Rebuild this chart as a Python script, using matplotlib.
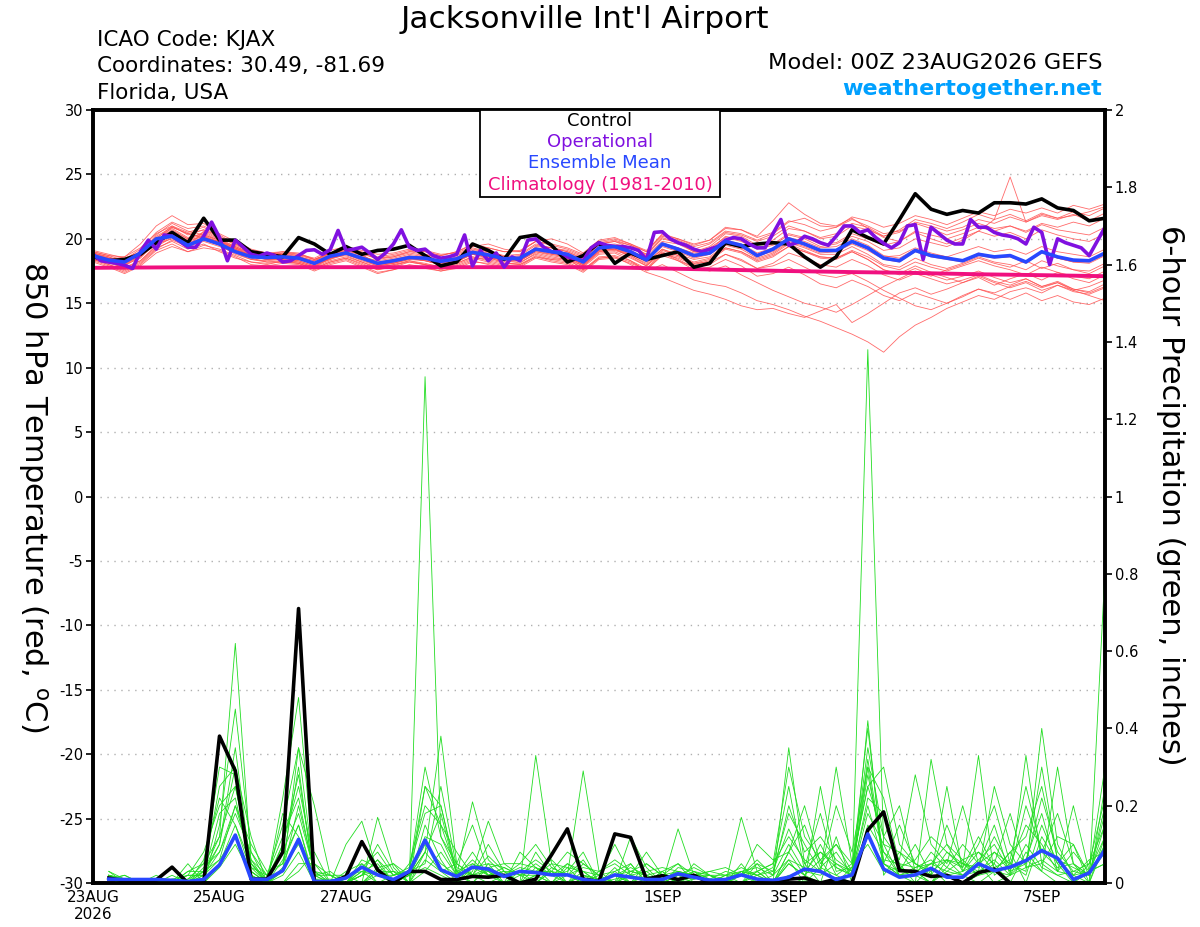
import pandas as pd
import matplotlib
matplotlib.use("Agg")
import matplotlib.pyplot as plt
from matplotlib.patches import Rectangle

plt.rcParams["font.family"] = ["DejaVu Sans"]
plt.rcParams["axes.unicode_minus"] = False

# time axes: 6-hourly GEFS, 3-hourly operational, daily climatology
times = pd.date_range("2026-08-23 00:00", periods=65, freq="6h")
op_times = pd.date_range("2026-08-23 00:00", periods=129, freq="3h")
clim_times = pd.date_range("2026-08-23", periods=17, freq="D")

tick_dates = pd.to_datetime(["2026-08-23", "2026-08-25", "2026-08-27", "2026-08-29",
                             "2026-09-01", "2026-09-03", "2026-09-05", "2026-09-07"])
tick_labels = ["23AUG\n2026", "25AUG", "27AUG", "29AUG", "1SEP", "3SEP", "5SEP", "7SEP"]

# 850 hPa temperature (C)
control_temp = [18.6, 18.3, 18.4, 18.8, 19.7, 20.5, 19.7, 21.6, 19.9, 19.9, 19.0, 18.8, 18.6, 20.1, 19.6, 18.8, 19.4,
                18.8, 19.1, 19.2, 19.5, 18.7, 17.9, 18.2, 19.6, 19.1, 18.4, 20.1, 20.3, 19.5, 18.2, 18.7, 19.7,
                18.1, 18.9, 18.4, 18.7, 19.0, 17.8, 18.1, 19.7, 19.4, 19.6, 19.7, 19.6, 18.6, 17.8, 18.6, 20.7,
                20.1, 19.6, 21.5, 23.5, 22.3, 21.9, 22.2, 22.0, 22.8, 22.8, 22.7, 23.1, 22.4, 22.2, 21.4, 21.6]

mean_temp = [18.7, 18.35, 18.2, 18.9, 20.0, 20.2, 19.5, 20.0, 19.6, 19.0, 18.6, 18.55, 18.6, 18.5, 18.1, 18.65, 18.9,
             18.5, 18.1, 18.3, 18.55, 18.5, 18.25, 18.45, 18.95, 18.75, 18.45, 18.5, 19.2, 19.0, 18.8, 18.2, 19.3,
             19.4, 19.0, 18.35, 19.6, 19.2, 18.7, 18.9, 19.8, 19.5, 18.7, 19.2, 20.0, 19.6, 19.1, 19.1, 19.8,
             19.3, 18.5, 18.3, 19.1, 18.7, 18.5, 18.3, 18.8, 18.6, 18.7, 18.2, 19.0, 18.6, 18.35, 18.3, 18.9]

oper_temp = [18.8, 18.3, 18.2, 18.1, 17.95, 17.7, 19.0, 19.9, 19.2, 20.3,
             20.2, 19.8, 19.35, 19.35, 20.2, 21.3, 20.1, 18.3, 19.9, 19.35,
             18.8, 18.65, 18.9, 18.7, 18.2, 18.3, 18.7, 19.1, 19.15, 18.8,
             19.15, 20.65, 19.1, 19.2, 19.35, 18.9, 18.4, 18.9, 19.6, 20.7,
             19.35, 19.1, 19.2, 18.7, 18.5, 18.6, 18.8, 20.3, 17.9, 19.1,
             18.3, 18.9, 17.8, 18.6, 18.3, 19.9, 20.0, 19.35, 19.0, 19.0,
             18.6, 18.45, 18.3, 19.3, 19.7, 19.5, 19.4, 19.4, 19.3, 19.1,
             18.4, 20.5, 20.55, 20.0, 19.7, 19.5, 19.2, 19.0, 19.2, 19.4,
             19.9, 20.1, 20.0, 19.6, 19.3, 19.3, 20.4, 21.5, 19.5, 19.7,
             20.2, 20.0, 19.7, 19.5, 20.2, 21.0, 21.0, 20.5, 20.7, 20.1,
             19.65, 19.3, 19.7, 21.0, 21.1, 18.4, 20.9, 20.4, 19.9, 19.6,
             19.6, 21.5, 20.9, 20.9, 20.5, 20.3, 20.2, 20.0, 19.6, 20.9,
             20.5, 18.0, 20.0, 19.7, 19.5, 19.3, 18.7, 19.8, 20.9]

clim_temp = [17.75, 17.78, 17.8, 17.8, 17.8, 17.8, 17.8, 17.8, 17.8,
             17.7, 17.6, 17.5, 17.42, 17.35, 17.25, 17.18, 17.1]

temp_members = [
    [18.9, 18.6, 18.0, 18.5, 19.8, 20.9, 20.4, 20.1, 19.8, 19.3, 18.9, 18.6, 18.9, 18.7, 18.0, 18.4, 19.1,
     18.8, 18.0, 18.1, 18.4, 18.8, 18.5, 18.2, 19.0, 19.2, 18.6, 18.3, 19.4, 19.3, 19.0, 18.4, 19.6,
     19.8, 19.5, 18.8, 20.1, 19.7, 19.0, 19.4, 20.4, 20.2, 19.5, 19.9, 20.8, 20.6, 20.1, 20.4, 21.2,
     20.9, 20.2, 20.5, 21.3, 21.0, 20.6, 20.9, 21.5, 21.2, 21.7, 21.3, 21.9, 21.6, 21.8, 22.1, 22.5],
    [18.4, 18.0, 17.6, 18.2, 19.3, 19.8, 19.2, 19.6, 19.0, 18.5, 18.2, 18.0, 18.3, 18.1, 17.7, 18.2, 18.5,
     18.0, 17.6, 17.9, 18.3, 18.0, 17.9, 18.1, 18.6, 18.3, 18.0, 18.2, 18.8, 18.5, 18.3, 17.8, 18.8,
     18.9, 18.3, 17.5, 18.0, 17.4, 16.8, 16.5, 16.3, 15.8, 15.2, 14.9, 14.5, 14.0, 13.6, 13.1, 12.6,
     12.0, 11.2, 12.4, 13.3, 13.9, 14.6, 15.1, 15.6, 15.3, 15.9, 16.2, 15.8, 16.4, 16.0, 16.3, 16.8],
    [19.0, 18.7, 18.3, 18.9, 20.3, 21.2, 20.6, 20.3, 19.9, 19.3, 18.7, 18.4, 18.4, 18.2, 17.8, 18.5, 18.7,
     18.2, 17.8, 18.0, 18.2, 18.0, 17.6, 17.9, 18.4, 18.6, 18.1, 18.0, 18.6, 18.4, 18.5, 17.6, 18.5,
     18.6, 18.0, 17.4, 17.0, 16.5, 16.0, 15.7, 15.3, 14.8, 14.5, 14.6, 14.2, 13.9, 14.4, 14.9, 13.5,
     14.2, 15.0, 15.8, 16.2, 15.7, 16.1, 16.6, 17.0, 16.4, 16.9, 17.3, 16.8, 17.4, 16.9, 16.6, 17.2],
    [18.5, 18.4, 18.1, 18.7, 19.6, 20.0, 19.4, 20.6, 19.9, 19.4, 18.9, 18.7, 18.8, 18.6, 18.3, 18.9, 19.2,
     18.9, 18.4, 18.6, 18.9, 18.7, 18.4, 18.7, 19.2, 19.0, 18.6, 18.7, 19.5, 19.3, 19.0, 18.5, 19.5,
     19.6, 19.3, 18.7, 19.8, 19.6, 19.0, 19.3, 20.1, 19.8, 19.2, 19.5, 20.3, 20.0, 19.4, 19.6, 20.2,
     19.8, 19.1, 19.3, 20.0, 19.7, 19.4, 19.9, 20.6, 21.5, 24.8, 21.3, 21.8, 21.5, 21.9, 21.4, 22.0],
    [18.8, 18.5, 18.4, 19.2, 20.5, 21.3, 20.8, 21.0, 20.4, 19.8, 19.2, 18.9, 19.0, 18.9, 18.4, 18.9, 19.3,
     19.0, 18.5, 18.6, 19.0, 19.1, 18.8, 18.9, 19.4, 19.6, 19.2, 19.0, 19.8, 20.0, 19.6, 18.9, 19.9,
     20.1, 19.6, 19.0, 20.4, 20.0, 19.6, 19.9, 20.9, 20.7, 20.1, 20.5, 21.4, 21.1, 20.6, 20.9, 21.7,
     21.4, 20.9, 21.2, 21.8, 21.5, 21.1, 21.6, 22.1, 21.8, 22.3, 22.0, 22.4, 22.0, 22.6, 22.3, 22.7],
    [18.3, 17.9, 17.4, 18.0, 19.1, 19.6, 19.0, 19.3, 19.1, 18.6, 18.0, 17.9, 18.1, 18.0, 17.5, 18.0, 18.3,
     17.8, 17.3, 17.6, 17.9, 17.7, 17.5, 17.8, 18.3, 18.0, 17.7, 17.8, 18.5, 18.2, 18.0, 17.4, 18.4,
     18.5, 18.1, 17.6, 18.7, 18.3, 17.8, 18.0, 18.8, 18.4, 17.7, 18.1, 18.9, 18.5, 18.0, 17.8, 18.4,
     17.9, 17.2, 16.8, 17.3, 16.9, 16.5, 16.8, 17.2, 16.7, 16.4, 16.9, 16.3, 16.7, 16.1, 15.8, 16.3],
    [19.1, 18.8, 18.5, 19.0, 20.1, 20.8, 20.1, 20.4, 19.7, 19.1, 18.8, 18.7, 18.8, 18.4, 18.2, 18.8, 19.0,
     18.6, 18.3, 18.5, 18.8, 18.6, 18.3, 18.6, 19.1, 18.9, 18.6, 18.6, 19.3, 19.1, 18.9, 18.3, 19.3,
     19.5, 19.1, 18.5, 19.6, 19.3, 18.8, 19.0, 19.9, 19.6, 18.9, 19.3, 20.1, 19.8, 19.3, 19.4, 20.0,
     19.5, 18.7, 18.5, 19.2, 18.8, 18.6, 18.3, 18.9, 18.6, 18.7, 18.2, 19.0, 18.5, 18.2, 18.1, 18.7],
    [18.6, 18.2, 17.9, 18.6, 19.7, 20.4, 19.8, 20.2, 19.5, 18.8, 18.4, 18.3, 18.4, 18.3, 17.9, 18.4, 18.8,
     18.4, 17.9, 18.1, 18.4, 18.3, 18.0, 18.3, 18.8, 18.6, 18.3, 18.3, 19.0, 18.8, 18.6, 18.0, 19.0,
     19.2, 18.6, 17.9, 18.9, 18.3, 17.6, 17.8, 18.4, 17.9, 17.1, 17.3, 17.8, 17.2, 16.5, 16.2, 16.8,
     16.3, 15.6, 15.2, 15.8, 15.4, 15.0, 15.5, 16.1, 15.7, 15.3, 15.8, 15.2, 15.6, 15.1, 14.9, 15.4],
    [18.7, 18.5, 18.3, 18.8, 19.9, 20.6, 20.0, 20.5, 19.8, 19.2, 18.7, 18.5, 18.5, 18.6, 18.1, 18.6, 18.8,
     18.5, 18.1, 18.2, 18.6, 18.4, 18.1, 18.4, 18.9, 18.7, 18.4, 18.4, 19.2, 18.9, 18.7, 18.1, 19.2,
     19.3, 18.9, 18.3, 19.5, 19.1, 18.6, 18.8, 19.7, 19.4, 18.6, 19.1, 19.9, 19.5, 19.0, 19.0, 19.6,
     19.1, 18.4, 18.2, 19.0, 18.6, 18.4, 18.2, 18.7, 18.5, 18.6, 18.1, 18.9, 18.5, 18.2, 18.2, 18.8],
    [18.9, 18.6, 18.2, 18.8, 20.0, 21.0, 20.5, 20.9, 20.1, 19.6, 19.0, 18.8, 19.0, 18.8, 18.5, 19.1, 19.4,
     19.1, 18.8, 18.9, 19.2, 19.0, 18.7, 19.0, 19.6, 19.3, 19.0, 19.1, 19.8, 19.6, 19.3, 18.8, 19.8,
     20.0, 19.6, 19.1, 20.3, 20.0, 19.5, 19.9, 20.8, 20.7, 20.2, 21.4, 22.8, 21.9, 21.2, 21.0, 21.6,
     20.8, 20.1, 19.8, 20.5, 20.0, 19.6, 20.1, 20.6, 20.2, 20.5, 20.0, 20.7, 20.3, 20.0, 19.8, 20.4],
    [18.2, 17.8, 17.3, 17.9, 18.9, 19.4, 19.0, 19.5, 19.2, 18.7, 18.2, 18.1, 18.2, 18.1, 17.6, 18.1, 18.4,
     17.9, 17.4, 17.6, 18.0, 17.8, 17.5, 17.7, 18.2, 18.1, 17.8, 17.9, 18.6, 18.3, 18.1, 17.5, 18.5,
     18.6, 18.2, 17.6, 18.8, 18.5, 18.0, 18.3, 19.2, 18.9, 18.2, 18.6, 19.4, 19.0, 18.6, 18.5, 19.1,
     18.6, 17.9, 17.6, 18.2, 17.8, 17.5, 17.9, 18.3, 17.9, 17.6, 17.2, 17.8, 17.4, 17.1, 16.9, 17.5],
    [18.6, 18.4, 18.6, 19.6, 21.0, 21.8, 21.1, 21.2, 20.3, 19.6, 19.1, 18.9, 18.8, 18.7, 18.4, 18.9, 19.1,
     18.7, 18.2, 18.4, 18.7, 18.5, 18.3, 18.5, 19.0, 18.8, 18.5, 18.5, 19.3, 19.0, 18.8, 18.2, 19.2,
     19.4, 19.0, 18.5, 19.7, 19.3, 18.9, 19.1, 20.2, 19.9, 19.3, 19.6, 20.4, 20.1, 19.6, 19.7, 20.4,
     20.0, 19.5, 19.8, 20.6, 20.3, 20.0, 20.4, 20.9, 20.6, 21.0, 20.6, 21.2, 20.9, 21.3, 21.0, 21.6],
    [18.4, 18.1, 17.8, 18.3, 19.4, 20.1, 19.6, 19.9, 19.5, 19.1, 18.5, 18.2, 18.3, 18.2, 17.8, 18.3, 18.6,
     18.2, 17.7, 18.0, 18.3, 18.1, 17.8, 18.1, 18.6, 18.4, 18.1, 18.1, 18.9, 18.6, 18.4, 17.9, 18.9,
     19.0, 18.5, 17.9, 19.1, 18.7, 18.2, 18.5, 19.3, 19.0, 18.3, 18.7, 19.4, 19.0, 18.5, 18.4, 19.0,
     18.4, 17.6, 17.3, 17.9, 17.4, 17.0, 16.6, 17.1, 16.6, 16.2, 16.6, 16.0, 16.4, 15.9, 15.7, 16.2],
    [18.8, 18.4, 18.0, 18.7, 19.8, 20.5, 19.9, 20.2, 19.7, 19.2, 18.7, 18.4, 18.5, 18.4, 18.0, 18.5, 18.9,
     18.5, 18.0, 18.2, 18.5, 18.3, 18.0, 18.3, 18.8, 18.6, 18.3, 18.3, 19.1, 18.9, 18.6, 18.0, 19.1,
     19.2, 18.7, 18.0, 19.0, 18.4, 17.8, 17.5, 17.9, 17.2, 16.6, 16.0, 15.5, 15.0, 14.7, 14.3, 14.9,
     15.6, 16.3, 16.9, 17.5, 17.1, 17.6, 18.0, 18.5, 18.1, 17.8, 18.3, 17.7, 18.1, 17.6, 17.3, 17.9],
    [19.0, 18.7, 18.6, 19.3, 20.4, 21.0, 20.3, 20.7, 20.0, 19.4, 18.9, 18.7, 18.7, 18.6, 18.3, 18.8, 19.1,
     18.8, 18.5, 18.7, 19.0, 18.8, 18.5, 18.8, 19.3, 19.0, 18.7, 18.8, 19.6, 19.3, 19.1, 18.6, 19.6,
     19.8, 19.3, 18.8, 20.0, 19.7, 19.2, 19.6, 20.5, 20.3, 19.8, 20.2, 21.0, 20.6, 20.0, 20.2, 21.0,
     20.7, 20.2, 20.7, 21.5, 21.2, 20.8, 21.3, 21.9, 21.5, 21.9, 21.4, 22.0, 21.6, 22.1, 21.8, 22.4],
    [18.5, 18.2, 17.7, 18.3, 19.5, 20.2, 19.7, 20.1, 19.7, 19.2, 18.6, 18.4, 18.5, 18.3, 17.9, 18.5, 18.8,
     18.3, 17.9, 18.1, 18.5, 18.3, 18.0, 18.2, 18.8, 18.5, 18.2, 18.3, 19.0, 18.7, 18.5, 17.9, 19.0,
     19.1, 18.7, 18.1, 19.2, 18.8, 18.4, 18.6, 19.5, 19.2, 18.5, 18.9, 19.7, 19.3, 18.8, 18.8, 19.4,
     18.8, 18.0, 17.8, 18.5, 18.0, 17.7, 18.1, 18.6, 18.2, 18.0, 17.6, 18.3, 17.9, 17.6, 17.5, 18.1],
    [18.9, 18.5, 18.2, 18.8, 19.9, 20.7, 20.0, 20.3, 19.6, 19.0, 18.6, 18.4, 18.6, 18.5, 18.1, 18.6, 18.9,
     18.5, 18.1, 18.3, 18.6, 18.5, 18.2, 18.4, 18.9, 18.7, 18.4, 18.5, 19.2, 19.0, 18.7, 18.2, 19.2,
     19.3, 18.8, 18.2, 19.2, 18.7, 18.1, 18.2, 18.8, 18.3, 17.7, 17.9, 18.4, 17.8, 17.2, 17.0, 17.3,
     16.7, 16.0, 15.4, 14.8, 14.5, 15.0, 15.6, 16.1, 15.8, 16.3, 16.7, 16.2, 16.6, 16.1, 15.9, 16.5],
    [18.6, 18.3, 18.2, 18.9, 20.2, 20.9, 20.4, 20.7, 20.2, 19.5, 19.0, 18.8, 18.9, 18.8, 18.4, 18.9, 19.2,
     18.9, 18.6, 18.8, 19.1, 19.0, 18.7, 19.0, 19.5, 19.3, 19.0, 19.0, 19.8, 19.5, 19.2, 18.7, 19.7,
     19.9, 19.5, 19.0, 20.2, 19.9, 19.4, 19.7, 20.6, 20.4, 19.9, 20.4, 21.3, 21.6, 21.0, 20.9, 21.5,
     21.0, 20.4, 20.6, 21.2, 20.8, 20.3, 20.7, 21.2, 20.8, 21.0, 20.5, 21.1, 20.7, 20.5, 20.3, 20.9],
    [18.4, 18.0, 17.5, 18.1, 19.2, 19.9, 19.4, 19.8, 19.4, 18.9, 18.4, 18.2, 18.2, 18.1, 17.7, 18.2, 18.5,
     18.1, 17.6, 17.8, 18.2, 18.0, 17.7, 18.0, 18.5, 18.2, 17.9, 18.0, 18.7, 18.4, 18.2, 17.6, 18.6,
     18.7, 18.3, 17.7, 18.9, 18.6, 18.1, 18.4, 19.3, 19.0, 18.4, 18.8, 19.6, 19.1, 18.6, 18.5, 19.0,
     18.4, 17.6, 17.2, 17.7, 17.2, 16.8, 17.1, 17.5, 17.0, 16.6, 16.9, 16.3, 16.6, 16.0, 15.6, 15.2],
    [18.7, 18.3, 18.1, 18.6, 19.6, 20.3, 19.6, 20.0, 19.8, 19.3, 18.8, 18.6, 18.6, 18.5, 18.0, 18.5, 18.8,
     18.4, 18.0, 18.2, 18.5, 18.4, 18.1, 18.3, 18.8, 18.6, 18.3, 18.4, 19.1, 18.8, 18.6, 18.0, 19.1,
     19.2, 18.8, 18.3, 19.4, 19.0, 18.5, 18.8, 19.6, 19.3, 18.7, 19.0, 19.8, 19.4, 18.9, 19.0, 19.7,
     19.2, 18.6, 18.7, 19.3, 18.9, 18.6, 19.0, 19.4, 19.0, 19.2, 18.8, 19.4, 19.0, 18.8, 18.6, 19.2],
]

# 6-hour precipitation (inches), valid 06Z 23AUG onwards
control_precip = [0.013, 0.005, 0, 0.008, 0.041, 0, 0, 0.38,
                  0.29, 0.01, 0.01, 0.08, 0.71, 0, 0, 0.017,
                  0.107, 0.034, 0, 0.03, 0.03, 0.009, 0.009, 0.017,
                  0.015, 0.02, 0, 0.01, 0.073, 0.14, 0.01, 0.004,
                  0.127, 0.118, 0.01, 0.019, 0.009, 0.02, 0, 0,
                  0, 0, 0, 0.01, 0.013, 0, 0.01, 0,
                  0.137, 0.184, 0.032, 0.03, 0.017, 0.02, 0, 0.027,
                  0.036, 0, 0, 0, 0, 0, 0, 0]

mean_precip = [0.01, 0.009, 0.009, 0.009, 0.007, 0.004, 0.009, 0.047,
               0.124, 0.01, 0.009, 0.032, 0.113, 0.004, 0.004, 0.013,
               0.041, 0.021, 0.009, 0.03, 0.111, 0.034, 0.017, 0.041,
               0.036, 0.017, 0.03, 0.027, 0.021, 0.021, 0.009, 0.004,
               0.021, 0.015, 0.009, 0.009, 0.024, 0.015, 0.007, 0.009,
               0.021, 0.01, 0.007, 0.015, 0.036, 0.03, 0.009, 0.021,
               0.127, 0.036, 0.015, 0.021, 0.038, 0.015, 0.015, 0.05,
               0.032, 0.041, 0.058, 0.084, 0.064, 0.009, 0.026, 0.086]

precip_members = [
    [0.02, 0.01, 0, 0, 0, 0.03, 0.05, 0.12, 0.62, 0.05, 0, 0.02, 0.08, 0, 0, 0.03,
     0.05, 0, 0, 0.02, 0.04, 0.02, 0, 0.05, 0.03, 0, 0, 0.02, 0, 0.04, 0, 0,
     0.02, 0, 0, 0.03, 0, 0, 0, 0, 0.02, 0, 0, 0.05, 0.02, 0, 0, 0.04,
     0.12, 0.05, 0.02, 0, 0.04, 0, 0, 0.02, 0.05, 0, 0.08, 0.03, 0, 0, 0.05, 0.15],
    [0.01, 0, 0, 0.02, 0, 0, 0.03, 0.25, 0.30, 0.02, 0, 0.22, 0.48, 0.03, 0, 0,
     0.02, 0.06, 0, 0, 1.31, 0.12, 0.03, 0, 0.04, 0.02, 0, 0, 0.03, 0, 0.02, 0,
     0, 0.05, 0, 0, 0.02, 0, 0, 0.02, 0, 0.03, 0, 0.08, 0.02, 0.06, 0, 0,
     1.38, 0.10, 0.02, 0.03, 0, 0.04, 0.02, 0, 0.03, 0.08, 0, 0.12, 0.05, 0, 0, 0.25],
    [0.03, 0.01, 0, 0, 0, 0.05, 0, 0.15, 0.45, 0.08, 0.02, 0.05, 0.30, 0, 0, 0,
     0, 0.17, 0.04, 0, 0.08, 0.38, 0.05, 0.02, 0.10, 0.03, 0, 0.04, 0, 0.02, 0.01, 0,
     0.03, 0, 0.02, 0, 0.14, 0.02, 0, 0, 0.03, 0, 0, 0.35, 0.05, 0, 0.12, 0,
     0.42, 0.02, 0.08, 0.03, 0, 0.06, 0.04, 0.33, 0.02, 0.05, 0.03, 0.40, 0.10, 0.02, 0, 0.81],
    [0.02, 0, 0, 0, 0.01, 0, 0.02, 0.10, 0.30, 0.12, 0, 0.03, 0.35, 0.20, 0.02, 0,
     0.04, 0.08, 0.02, 0.03, 0.25, 0.20, 0.02, 0.21, 0.06, 0.02, 0, 0.33, 0.05, 0, 0.03, 0.02,
     0, 0.12, 0.04, 0, 0, 0.05, 0.02, 0, 0.17, 0.03, 0, 0.06, 0, 0.25, 0.04, 0.02,
     0.30, 0.22, 0.05, 0, 0.32, 0.10, 0.03, 0.05, 0, 0.02, 0.06, 0.03, 0.30, 0.05, 0.02, 0.10],
    [0.01, 0.02, 0, 0, 0, 0.02, 0.08, 0.20, 0.25, 0.06, 0, 0.10, 0.25, 0.05, 0.02, 0,
     0, 0.03, 0.05, 0, 0.15, 0.06, 0, 0.03, 0.16, 0.05, 0.02, 0, 0.03, 0.08, 0.05, 0.02,
     0.10, 0.02, 0, 0.02, 0, 0.03, 0, 0.01, 0, 0.05, 0.03, 0.18, 0.10, 0.03, 0.30, 0.05,
     0.25, 0.30, 0.10, 0.05, 0.03, 0.15, 0.05, 0.02, 0.08, 0.05, 0.15, 0.10, 0.03, 0.20, 0.03, 0.05],
    [0.02, 0, 0, 0.01, 0, 0, 0.02, 0.08, 0.20, 0.10, 0.03, 0.05, 0.15, 0, 0, 0.10,
     0.16, 0.03, 0, 0.05, 0.20, 0.15, 0.08, 0.02, 0, 0.02, 0.05, 0.10, 0.04, 0.02, 0.29, 0.03,
     0.05, 0.02, 0.08, 0.02, 0.05, 0.02, 0.03, 0.04, 0.02, 0.10, 0.06, 0.08, 0.20, 0.05, 0.10, 0.03,
     0.35, 0.12, 0.06, 0.28, 0.10, 0.05, 0.20, 0.05, 0.15, 0.02, 0.33, 0.05, 0.12, 0.10, 0, 0.12],
    [0.01, 0, 0.01, 0, 0, 0, 0, 0.05, 0.15, 0.05, 0, 0.04, 0.10, 0.02, 0, 0,
     0.03, 0.05, 0, 0.02, 0.10, 0.05, 0.02, 0.08, 0.02, 0, 0.08, 0.04, 0.02, 0, 0.05, 0.02,
     0, 0.03, 0.05, 0.02, 0, 0.01, 0.02, 0, 0.05, 0, 0.02, 0.10, 0.03, 0.02, 0.05, 0.03,
     0.20, 0.05, 0.03, 0.10, 0.02, 0.08, 0.05, 0.03, 0.25, 0.10, 0.05, 0.22, 0.08, 0.03, 0.02, 0.20],
    [0.02, 0.01, 0, 0, 0, 0.01, 0.03, 0.06, 0.12, 0.03, 0, 0, 0.03, 0.08, 0, 0.02,
     0, 0.02, 0.03, 0, 0.06, 0.03, 0, 0.04, 0.02, 0.03, 0, 0.02, 0, 0.05, 0.03, 0,
     0.02, 0, 0.03, 0, 0.02, 0.04, 0.02, 0, 0, 0.02, 0, 0.05, 0.02, 0.10, 0.02, 0,
     0.15, 0.08, 0.02, 0.04, 0.06, 0.02, 0.03, 0.08, 0.05, 0.18, 0.04, 0.06, 0.03, 0.02, 0.06, 0.08],
    [0.01, 0.02, 0, 0, 0.02, 0, 0, 0.04, 0.10, 0.02, 0, 0, 0.05, 0.05, 0, 0,
     0.05, 0.02, 0, 0, 0.03, 0.08, 0.02, 0, 0.05, 0, 0.03, 0, 0.04, 0.02, 0, 0.03,
     0, 0.02, 0, 0.03, 0.05, 0, 0, 0.02, 0.04, 0.02, 0, 0.02, 0, 0.04, 0.02, 0.05,
     0.10, 0.03, 0.04, 0.02, 0, 0.03, 0.06, 0.02, 0.03, 0.02, 0.10, 0.04, 0.02, 0, 0.03, 0.05],
    [0.03, 0, 0, 0, 0, 0.02, 0.02, 0.18, 0.22, 0.04, 0.02, 0.15, 0.35, 0.02, 0, 0,
     0.02, 0.10, 0.03, 0, 0.25, 0.15, 0.03, 0.05, 0.02, 0.04, 0.02, 0.05, 0.02, 0.03, 0.08, 0,
     0.04, 0, 0.05, 0.02, 0.03, 0.02, 0, 0, 0, 0.03, 0.05, 0.12, 0.06, 0.03, 0.20, 0.08,
     0.30, 0.05, 0.15, 0.05, 0.02, 0.25, 0.03, 0.10, 0.20, 0.05, 0.02, 0.15, 0.05, 0.10, 0.02, 0.18],
    [0.01, 0, 0, 0, 0, 0, 0.04, 0.08, 0.18, 0.08, 0, 0.03, 0.20, 0.03, 0.02, 0.02,
     0.03, 0, 0.02, 0.03, 0.05, 0.25, 0.04, 0.02, 0.03, 0.02, 0.04, 0.03, 0.06, 0.02, 0, 0.02,
     0.03, 0.05, 0, 0.01, 0.03, 0.02, 0.02, 0, 0.03, 0.02, 0.04, 0.25, 0.03, 0.08, 0.05, 0.02,
     0.22, 0.18, 0.04, 0.02, 0.05, 0.03, 0.02, 0.06, 0.10, 0.03, 0.20, 0.08, 0.18, 0.05, 0, 0.10],
    [0.02, 0, 0, 0.01, 0, 0.03, 0.03, 0.10, 0.35, 0.03, 0, 0.06, 0.15, 0.01, 0, 0,
     0, 0.04, 0.05, 0.02, 0.08, 0.03, 0.05, 0.15, 0.03, 0, 0.02, 0.03, 0.03, 0, 0.02, 0.01,
     0.02, 0.03, 0.02, 0, 0.02, 0.01, 0.02, 0.02, 0.02, 0.05, 0, 0.08, 0.15, 0.04, 0.08, 0.02,
     0.18, 0.10, 0.08, 0.05, 0.03, 0.06, 0.02, 0.03, 0.06, 0.02, 0.04, 0.05, 0.02, 0.03, 0.05, 0.22],
    [0.02, 0.01, 0, 0, 0, 0, 0.06, 0.22, 0.15, 0.03, 0, 0.18, 0.12, 0.02, 0.02, 0,
     0.03, 0.02, 0.02, 0.04, 0.18, 0.20, 0.03, 0.02, 0.07, 0.03, 0, 0.08, 0.02, 0.02, 0.06, 0,
     0.02, 0.04, 0.02, 0, 0.04, 0.03, 0.01, 0, 0.02, 0.06, 0.02, 0.06, 0.04, 0.18, 0.03, 0.04,
     0.40, 0.05, 0.02, 0.02, 0.08, 0.04, 0.10, 0.05, 0.08, 0.03, 0.05, 0.30, 0.06, 0.02, 0.03, 0.30],
    [0.01, 0.01, 0, 0, 0.01, 0.02, 0.02, 0.06, 0.20, 0.06, 0.02, 0.12, 0.22, 0.02, 0.03, 0,
     0.02, 0.06, 0.02, 0.03, 0.30, 0.12, 0.05, 0.02, 0.04, 0.05, 0.05, 0.04, 0.02, 0.05, 0.02, 0.01,
     0, 0.02, 0.03, 0.04, 0.03, 0.02, 0.03, 0.02, 0.03, 0.04, 0.02, 0.20, 0.08, 0.12, 0.06, 0.03,
     0.28, 0.08, 0.04, 0.06, 0.12, 0.08, 0.04, 0.12, 0.04, 0.06, 0.25, 0.08, 0.04, 0.05, 0.02, 0.15],
    [0.02, 0, 0, 0, 0, 0.01, 0.05, 0.30, 0.28, 0.04, 0, 0.08, 0.18, 0.03, 0, 0,
     0.06, 0.04, 0, 0.02, 0.12, 0.10, 0.02, 0.06, 0.02, 0.03, 0.03, 0.06, 0.03, 0.02, 0.04, 0.03,
     0.06, 0.03, 0.02, 0.03, 0, 0.02, 0.01, 0.03, 0.02, 0.03, 0.05, 0.30, 0.12, 0.06, 0.10, 0.05,
     0.25, 0.12, 0.20, 0.03, 0.05, 0.06, 0.05, 0.04, 0.12, 0.04, 0.06, 0.18, 0.03, 0.08, 0.03, 0.12],
    [0.01, 0, 0.01, 0, 0, 0, 0.03, 0.12, 0.25, 0.05, 0.01, 0.10, 0.28, 0.01, 0.01, 0,
     0.02, 0.03, 0.03, 0.02, 0.08, 0.18, 0.02, 0.04, 0.05, 0.04, 0.02, 0.02, 0.05, 0.04, 0.03, 0,
     0.01, 0.02, 0.01, 0.02, 0.01, 0.03, 0.02, 0.01, 0.03, 0.02, 0.03, 0.14, 0.05, 0.08, 0.04, 0.02,
     0.32, 0.06, 0.05, 0.04, 0.05, 0.10, 0.06, 0.08, 0.03, 0.08, 0.12, 0.25, 0.06, 0.04, 0.02, 0.08],
]

fig = plt.figure(figsize=(12, 9.27), dpi=100)
ax = fig.add_axes([93 / 1200, 1 - 883 / 927, 1012 / 1200, 773 / 927])
ax2 = ax.twinx()

# temperature
for m in temp_members:
    ax.plot(times, m, color="#ff5050", lw=0.6, alpha=0.85)
ax.plot(clim_times, clim_temp, color="#f0107f", lw=2.8)
ax.plot(times, control_temp, color="black", lw=2.6)
ax.plot(op_times, oper_temp, color="#8010e0", lw=2.6)
ax.plot(times, mean_temp, color="#2848ff", lw=2.6)

# precipitation on right axis
for p in precip_members:
    ax2.plot(times[1:], p, color="#22dd22", lw=0.6)
ax2.plot(times[1:], control_precip, color="black", lw=2.6)
ax2.plot(times[1:], mean_precip, color="#2848ff", lw=2.6)

ax.set_xlim(times[0], times[-1])
ax.set_ylim(-30, 30)
ax2.set_ylim(0, 2)
ax.set_yticks(range(-30, 31, 5))
ax.set_yticklabels([str(v) for v in range(-30, 31, 5)])
ax2.set_yticks([i * 0.2 for i in range(11)])
ax2.set_yticklabels(["0", "0.2", "0.4", "0.6", "0.8", "1", "1.2", "1.4", "1.6", "1.8", "2"])
ax.set_xticks(tick_dates)
ax.set_xticklabels(tick_labels)

ax.grid(axis="y", color="#b0b0b0", lw=1, ls=(0, (1, 4)))
ax.tick_params(axis="x", length=0, pad=5, labelsize=11)
ax.tick_params(axis="y", length=5, width=1.2, labelsize=10.5, pad=2)
ax2.tick_params(axis="y", length=5, width=1.2, labelsize=10.5, pad=2)
for a in (ax, ax2):
    for s in a.spines.values():
        s.set_linewidth(2.6)

# legend box
ax2.add_patch(Rectangle((0.3824, 0.8875), 0.2372, 0.1125, transform=ax2.transAxes,
                        facecolor="white", edgecolor="black", lw=1.3, zorder=5, clip_on=False))
legend_rows = [("Control", "black", 0.9858), ("Operational", "#8010e0", 0.9586),
               ("Ensemble Mean", "#2848ff", 0.9314), ("Climatology (1981-2010)", "#f0107f", 0.9030)]
for txt, col, yy in legend_rows:
    ax2.text(0.501, yy, txt, color=col, fontsize=13, ha="center", va="center",
             transform=ax2.transAxes, zorder=6)

# header texts
fig.text(0.4875, 1 - 19 / 927, "Jacksonville Int'l Airport", fontsize=22.5, ha="center", va="center")
fig.text(97 / 1200, 1 - 40 / 927, "ICAO Code: KJAX", fontsize=15.5, va="center")
fig.text(97 / 1200, 1 - 66 / 927, "Coordinates: 30.49, -81.69", fontsize=15.5, va="center")
fig.text(97 / 1200, 1 - 93 / 927, "Florida, USA", fontsize=15.5, va="center")
fig.text(1102 / 1200, 1 - 63 / 927, "Model: 00Z 23AUG2026 GEFS", fontsize=16.2, ha="right", va="center")
fig.text(1102 / 1200, 1 - 89 / 927, "weathertogether.net", fontsize=16, fontweight="bold",
         color="#00a0ff", ha="right", va="center")

fig.text(33 / 1200, 1 - 497 / 927, "850 hPa Temperature (red, $^\\mathregular{o}$C)", fontsize=22,
         rotation=-90, ha="center", va="center")
fig.text(1170 / 1200, 1 - 495 / 927, "6-hour Precipitation (green, inches)", fontsize=22,
         rotation=-90, ha="center", va="center")

fig.savefig("out.png", dpi=100)
